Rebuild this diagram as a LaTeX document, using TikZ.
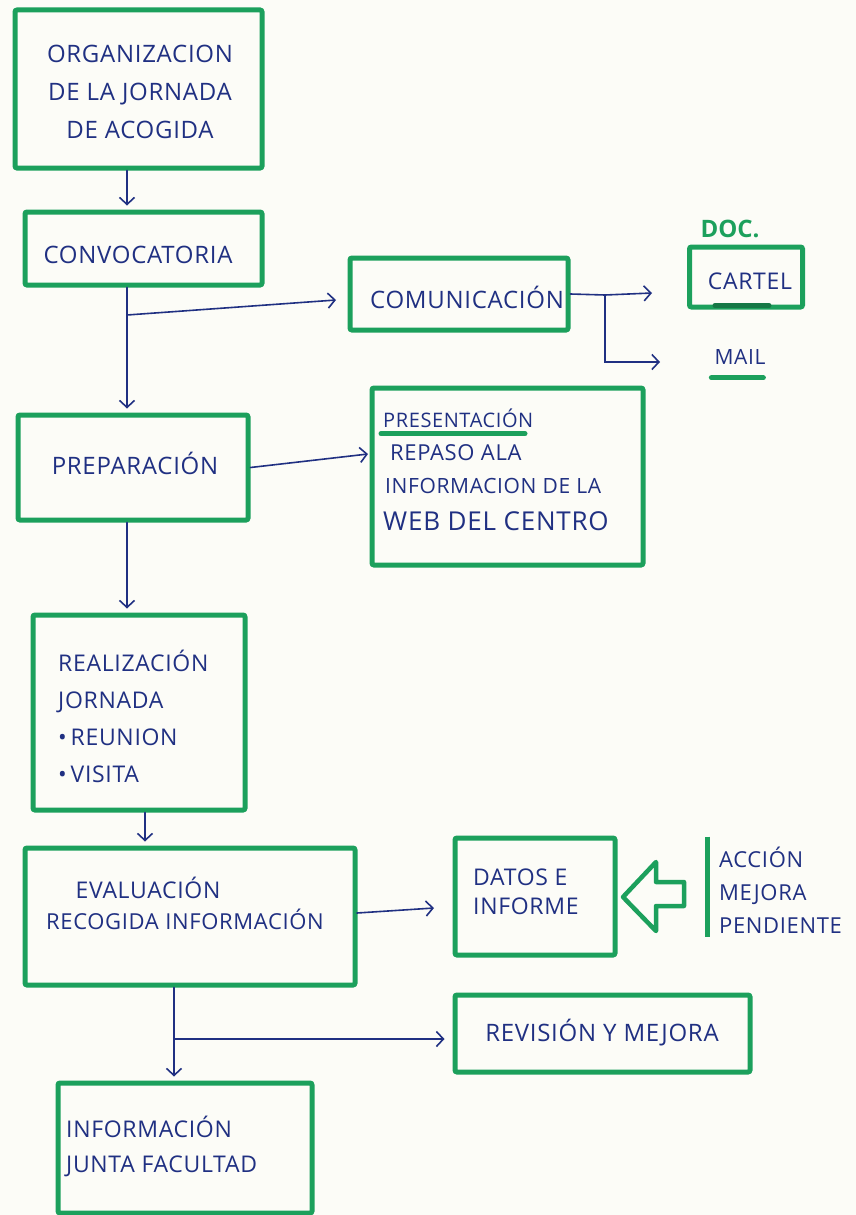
\documentclass[tikz,border=0pt]{standalone}
\usepackage{fontspec}
\setmainfont{Open Sans}
\newfontfamily\hand{Open Sans}[LetterSpace=3]
\usetikzlibrary{arrows.meta}
\definecolor{marker}{RGB}{28,160,92}
\definecolor{markerdark}{RGB}{22,120,70}
\definecolor{ink}{RGB}{32,48,130}
\definecolor{paper}{RGB}{252,252,247}
\tikzset{
  box/.style={draw=marker, line width=5pt, rounded corners=2pt, inner sep=0pt},
  txt/.style={text=ink, inner sep=0pt, font=\hand\fontsize{24}{38}\selectfont},
  conn/.style={draw=ink, line width=1.6pt, line cap=round,
    -{Straight Barb[length=7pt, width=15pt, line width=1.6pt]}},
  wire/.style={draw=ink, line width=1.6pt, line cap=round},
  pen/.style={draw=marker, line width=5pt, line cap=round, line join=round},
}
\begin{document}
\begin{tikzpicture}[x=1pt, y=-1pt]
  % page
  \fill[paper] (0,0) rectangle (856,1215);
  \useasboundingbox (0,0) rectangle (856,1215);

  % boxes
  \node[box, minimum width=247pt, minimum height=158pt] (org) at (138.5,89) {};
  \node[box, minimum width=237pt, minimum height=73pt] (conv) at (143.5,248.5) {};
  \node[box, minimum width=218pt, minimum height=72pt] (com) at (459,294) {};
  \node[box, minimum width=113pt, minimum height=60pt] (cartel) at (746,277) {};
  \node[box, minimum width=230pt, minimum height=105pt] (prep) at (133,467.5) {};
  \node[box, minimum width=271pt, minimum height=177pt] (pres) at (507.5,476.5) {};
  \node[box, minimum width=212pt, minimum height=195pt] (real) at (139,712.5) {};
  \node[box, minimum width=330pt, minimum height=137pt] (eval) at (190,916.5) {};
  \node[box, minimum width=160pt, minimum height=117pt] (datos) at (535,896.5) {};
  \node[box, minimum width=295pt, minimum height=77pt] (rev) at (602.5,1033.5) {};
  \node[box, minimum width=254pt, minimum height=130pt] (info) at (185,1148) {};

  % texts
  \node[txt, align=center] (orgt) at (140,92) {ORGANIZACION\\DE LA JORNADA\\DE ACOGIDA};
  \node[txt] (convt) at (138,255) {CONVOCATORIA};
  \node[txt] (comt) at (467,297) {COMUNICACIÓN};
  \node[txt, font=\hand\fontsize{23}{26}\selectfont] (cartelt) at (750,281) {CARTEL};
  \node[text=marker, inner sep=0pt, font=\bfseries\fontsize{24}{28}\selectfont] (doc) at (730,229) {DOC.};
  \node[txt, font=\hand\fontsize{21}{24}\selectfont] (mail) at (740,357) {MAIL};
  \node[txt] (prept) at (135,463) {PREPARACIÓN};
  \node[txt, anchor=west, font=\hand\fontsize{20}{24}\selectfont] (pres1) at (383,418) {PRESENTACIÓN};
  \node[txt, anchor=west, font=\hand\fontsize{22}{26}\selectfont] (pres2) at (390,453) {REPASO ALA};
  \node[txt, anchor=west, font=\hand\fontsize{21}{24}\selectfont] (pres3) at (385,486) {INFORMACION DE LA};
  \node[txt, anchor=west, font=\hand\fontsize{26}{30}\selectfont] (pres4) at (383,521) {WEB DEL CENTRO};
  \node[txt, anchor=west, align=left, font=\hand\fontsize{23}{37}\selectfont] (realt) at (58,716)
    {REALIZACIÓN\\JORNADA\\{\textbullet}\,REUNION\\{\textbullet}\,VISITA};
  \node[txt, font=\hand\fontsize{23}{26}\selectfont] (evala) at (148,888) {EVALUACIÓN};
  \node[txt, font=\hand\fontsize{22}{26}\selectfont] (evalb) at (185,919) {RECOGIDA INFORMACIÓN};
  \node[txt, anchor=west, align=left, font=\hand\fontsize{23}{29}\selectfont] (datost) at (473,892) {DATOS E\\INFORME};
  \node[txt, anchor=west, align=left, font=\hand\fontsize{22}{33}\selectfont] (acc) at (719,890) {ACCIÓN\\MEJORA\\PENDIENTE};
  \node[txt] (revt) at (602,1033) {REVISIÓN Y MEJORA};
  \node[txt, anchor=west, align=left, font=\hand\fontsize{23}{35}\selectfont] (infot) at (66,1146) {INFORMACIÓN\\JUNTA FACULTAD};

  % marker strokes
  \draw[pen] (pres1.south west) ++(-2,6) -- ++(144,0);
  \draw[pen] (mail.south west) ++(-3,13) -- ++(52,0);
  \draw[draw=markerdark, line width=5pt, line cap=round] (cartel.south) ++(-31,-4) -- ++(54,0);
  \draw[pen, line cap=butt] (acc.north west) ++(-12,-10) -- ++(0,100);
  % open arrow pointing at the report box
  \draw[pen, line width=4.5pt] (623,897) -- (656,862) -- (656,882) -- (684,882)
    -- (684,906) -- (656,906) -- (656,931) -- cycle;

  % connector helpers
  \coordinate (t1) at (127,0);
  \coordinate (t2) at (145,0);
  \coordinate (t3) at (174,0);
  \coordinate (b1) at (127,315);
  \coordinate (comIn) at (336,300);
  \coordinate (j1) at (605,295);
  \coordinate (cartelIn) at (652,293);
  \coordinate (mailIn) at (660,362);
  \coordinate (presIn) at (368,454);
  \coordinate (evalOut) at (357,913);
  \coordinate (datosIn) at (434,908);
  \coordinate (b2) at (174,1039);

  % connectors
  \draw[conn, shorten >=4pt] (org.south -| t1) -- (conv.north -| t1);
  \draw[conn, shorten >=4pt] (conv.south -| t1) -- (prep.north -| t1);
  \draw[conn] (b1) -- (comIn);
  \draw[wire] (com.east) -- (j1);
  \draw[conn] (j1) -- (cartelIn);
  \draw[conn] (j1) |- (mailIn);
  \draw[conn] (prep.east) -- (presIn);
  \draw[conn, shorten >=4pt] (prep.south -| t1) -- (real.north -| t1);
  \draw[conn, shorten >=4pt] (real.south -| t2) -- (eval.north -| t2);
  \draw[conn] (evalOut) -- (datosIn);
  \draw[conn, shorten >=4pt] (eval.south -| t3) -- (info.north -| t3);
  \draw[conn, shorten >=8pt] (b2) -- (rev.west |- b2);
\end{tikzpicture}
\end{document}
